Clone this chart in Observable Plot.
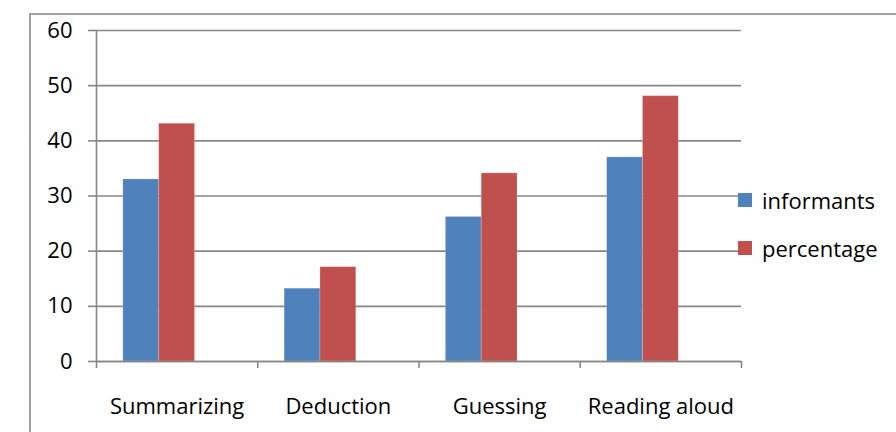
<!DOCTYPE html>
<html>
<head>
<meta charset="utf-8">
<script src="https://cdn.jsdelivr.net/npm/d3@7"></script>
<script src="https://cdn.jsdelivr.net/npm/@observablehq/plot@0.6"></script>
<style>
  html, body { margin: 0; padding: 0; background: #fff; }
  #wrap { position: relative; width: 896px; height: 432px; overflow: hidden; font-family: "Open Sans", sans-serif; }
  #border { position: absolute; left: 29px; top: 13px; width: 900px; height: 460px; border-left: 2px solid #a3a3a3; border-top: 2px solid #a3a3a3; box-sizing: border-box; }
  #chart { position: absolute; left: 0; top: 0; }
  #legend { position: absolute; left: 738px; top: 186px; font-size: 22px; color: #000; }
  .item { display: flex; align-items: center; height: 28px; margin-bottom: 20px; }
  .sw { width: 14px; height: 14px; margin-right: 10px; }
</style>
</head>
<body>
<div id="wrap">
  <div id="border"></div>
  <div id="chart"></div>
  <div id="legend"></div>
</div>
<script>
const categories = ["Summarizing", "Deduction", "Guessing", "Reading aloud"];
const seriesNames = ["informants", "percentage"];
const informants = [33, 13.2, 26.2, 37];
const percentage = [43.1, 17.1, 34.1, 48.1];
const yTicks = [0, 10, 20, 30, 40, 50, 60];
const colors = ["#4F81BD", "#C0504D"];

// Excel-style clustered layout: 3 bar slots per category (third slot empty), gap width 150%
const slots = 3, gapWidth = 1.5;
const barW = 1 / (slots + gapWidth);
const values = [informants, percentage];
const data = [];
categories.forEach((c, i) => {
  seriesNames.forEach((s, j) => {
    const x1 = i + barW * gapWidth / 2 + j * barW;
    data.push({category: c, series: s, value: values[j][i], x1, x2: x1 + barW});
  });
});

const axisColor = "#878787";
const plot = Plot.plot({
  width: 896,
  height: 432,
  marginLeft: 96,
  marginRight: 155,
  marginTop: 30,
  marginBottom: 71,
  style: {fontFamily: "Open Sans, sans-serif", fontSize: "22px", color: "#000", background: "transparent"},
  x: {domain: [0, categories.length], axis: null},
  y: {domain: [0, 60], axis: null},
  color: {domain: seriesNames, range: colors},
  marks: [
    Plot.gridY(yTicks, {stroke: axisColor, strokeOpacity: 1, strokeWidth: 1.6}),
    Plot.axisY({ticks: yTicks, tickSize: 8, tickPadding: 16, stroke: axisColor, strokeWidth: 1.6, fontSize: 22, label: null}),
    Plot.rectY(data, {x1: "x1", x2: "x2", y: "value", fill: "series", stroke: "#ffffff", strokeOpacity: 0.25, strokeWidth: 0.8}),
    Plot.ruleY([0], {stroke: axisColor, strokeWidth: 1.6}),
    Plot.ruleX([0], {y1: 0, y2: 60, stroke: axisColor, strokeWidth: 1.6}),
    Plot.axisX({ticks: d3.range(0, categories.length + 1), tickSize: 7, tickFormat: () => "", stroke: axisColor, strokeWidth: 1.6, label: null}),
    Plot.axisX({ticks: categories.map((c, i) => i + 0.5), tickSize: 0, tickPadding: 37, tickFormat: d => categories[Math.floor(d)], fontSize: 22, label: null})
  ]
});
document.getElementById("chart").appendChild(plot);

const legend = document.getElementById("legend");
seriesNames.forEach((s, j) => {
  const item = document.createElement("div");
  item.className = "item";
  const sw = document.createElement("div");
  sw.className = "sw";
  sw.style.background = colors[j];
  const t = document.createElement("span");
  t.textContent = s;
  item.appendChild(sw);
  item.appendChild(t);
  legend.appendChild(item);
});
</script>
</body>
</html>
